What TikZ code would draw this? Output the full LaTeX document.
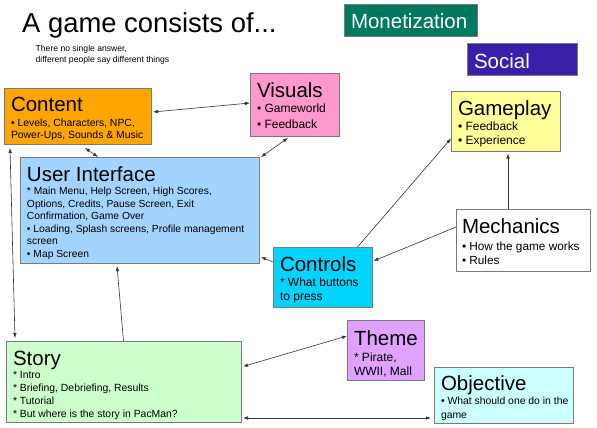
\documentclass[tikz,border=0pt]{standalone}
\usepackage{fontspec}
\setmainfont{Liberation Sans}
\usetikzlibrary{arrows.meta}

\definecolor{edge}{HTML}{7A7A7A}
\definecolor{cContent}{HTML}{FFA500}
\definecolor{cVisuals}{HTML}{FF99CC}
\definecolor{cGame}{HTML}{FFFF99}
\definecolor{cUI}{HTML}{A3D4FF}
\definecolor{cMech}{HTML}{FFFFFF}
\definecolor{cControls}{HTML}{00D4FF}
\definecolor{cTheme}{HTML}{E0A2FF}
\definecolor{cStory}{HTML}{CCFFCC}
\definecolor{cObjective}{HTML}{CCFFFF}
\definecolor{cMoney}{HTML}{007A5E}
\definecolor{cSocial}{HTML}{3A1FAB}

% card heading: first baseline sits #1 pt below the top edge
\newcommand{\hd}[2][24]{{\fontsize{20.5}{24}\selectfont\rule{0pt}{#1pt}#2\par}}
\newcommand{\bodyfont}[2]{\fontsize{#1}{#2}\selectfont}
% fixed-size card contents: width, height, text
\newcommand{\cardbox}[3]{\parbox[c][#2pt][t]{\dimexpr#1pt-14pt\relax}{\raggedright\lineskiplimit=-100pt #3}}

\begin{document}
\begin{tikzpicture}[x=1pt,y=-1pt,
  card/.style={draw=edge, line width=0.7pt, inner xsep=7pt, inner ysep=0pt,
               anchor=north west, outer sep=0pt},
  link/.style={line width=0.6pt, draw=black!80, -{Latex[length=5pt,width=3.6pt]}},
  both/.style={line width=0.6pt, draw=black!80,
               {Latex[length=5pt,width=3.6pt]}-{Latex[length=5pt,width=3.6pt]}}]
\useasboundingbox (0,0) rectangle (597,428);

% heading and remark
\node[anchor=base west, inner sep=0pt, font=\fontsize{27.4}{27.4}\selectfont] (title) at (22,33)
  {A game consists of...};
\node[anchor=north west, inner sep=0pt, align=left, font=\fontsize{8.6}{10.5}\selectfont] (remark)
  at (35.5,45.2) {There no single answer,\\different people say different things};

% labels on the top right
\node[card, fill=cMoney, text=white] (money) at (344,4)
  {\cardbox{133}{32}{\hd[25]{Monetization}}};
\node[card, fill=cSocial, text=white] (social) at (467,43)
  {\cardbox{110}{32}{\hd[25]{Social}}};

% cards
\node[card, fill=cContent] (content) at (4,88)
  {\cardbox{147}{56}{\hd[23]{Content}\vspace{2.5pt}\bodyfont{10.4}{12.5}%
   \mbox{• Levels, Characters, NPC,}\\\mbox{Power-Ups, Sounds \& Music}}};

\node[card, fill=cVisuals] (visuals) at (250,73)
  {\cardbox{89}{63}{\hd{Visuals}\vspace{-1pt}\bodyfont{12}{16.4}%
   \mbox{• Gameworld}\\\mbox{• Feedback}}};

\node[card, fill=cGame] (gameplay) at (451,91)
  {\cardbox{109}{60}{\hd{Gameplay}\vspace{1.8pt}\bodyfont{12}{14}%
   \mbox{• Feedback}\\\mbox{• Experience}}};

\node[card, fill=cUI] (ui) at (20,157)
  {\cardbox{239}{106}{\hd{User Interface}\vspace{1pt}\bodyfont{10.3}{12.5}%
   \mbox{* Main Menu, Help Screen, High Scores,}\\
   \mbox{Options, Credits, Pause Screen, Exit}\\
   \mbox{Confirmation, Game Over}\\
   \mbox{• Loading, Splash screens, Profile management}\\
   \mbox{screen}\\
   \mbox{• Map Screen}}};

\node[card, fill=cMech, inner xsep=6pt] (mechanics) at (456,209)
  {\parbox[c][62pt][t]{122pt}{\raggedright\lineskiplimit=-100pt
   \hd{Mechanics}\vspace{2.6pt}\bodyfont{11.8}{14.4}%
   \mbox{• How the game works}\\\mbox{• Rules}}};

\node[card, fill=cControls] (controls) at (273,247)
  {\cardbox{99}{60}{\hd{Controls}\vspace{0.3pt}\bodyfont{12}{14.7}%
   \mbox{* What buttons}\\\mbox{to press}}};

\node[card, fill=cTheme] (theme) at (347,320)
  {\cardbox{77}{60}{\hd[25]{Theme}\vspace{2pt}\bodyfont{12}{14}%
   \mbox{* Pirate,}\\\mbox{WWII, Mall}}};

\node[card, fill=cStory] (story) at (6,341)
  {\cardbox{235}{81}{\hd{Story}\vspace{0.4pt}\bodyfont{10.4}{13}%
   \mbox{* Intro}\\
   \mbox{* Briefing, Debriefing, Results}\\
   \mbox{* Tutorial}\\
   \mbox{* But where is the story in PacMan?}}};

\node[card, fill=cObjective] (objective) at (434,367)
  {\cardbox{139}{56}{\hd[23]{Objective}\vspace{0.1pt}\bodyfont{10.4}{14.3}%
   \mbox{• What should one do in the}\\\mbox{game}}};

% connectors
\draw[both] ([xshift=2pt,yshift=4pt]content.east) -- ([yshift=1.5pt]visuals.west);
\draw[both] ([xshift=-6.5pt,yshift=-2pt]visuals.south) -- ([xshift=2pt]ui.north east);
\draw[both] ([xshift=7.5pt,yshift=-4pt]content.south) -- ([xshift=78pt]ui.north west);
\draw[both] ([xshift=6pt,yshift=-4pt]content.south west) -- ([xshift=9pt,yshift=3pt]story.north west);
\draw[link] (story.north) -- ([xshift=-22.5pt,yshift=-3pt]ui.south);
\draw[link] ([yshift=15pt]controls.west) -- ([xshift=2pt,yshift=6pt]ui.south east);
\draw[link] ([xshift=35pt]controls.north) -- ([yshift=-17.5pt]gameplay.west);
\draw[link] ([xshift=-15pt]mechanics.north) -- ([xshift=2.5pt,yshift=-2.5pt]gameplay.south);
\draw[link] ([yshift=13pt]mechanics.west) -- ([xshift=1.5pt,yshift=16pt]controls.east);
\draw[both] ([xshift=2pt,yshift=15pt]story.east) -- ([yshift=14pt]theme.west);
\draw[both] ([xshift=2pt,yshift=4pt]story.south east) -- ([xshift=-3pt,yshift=5pt]objective.south west);
\end{tikzpicture}
\end{document}
